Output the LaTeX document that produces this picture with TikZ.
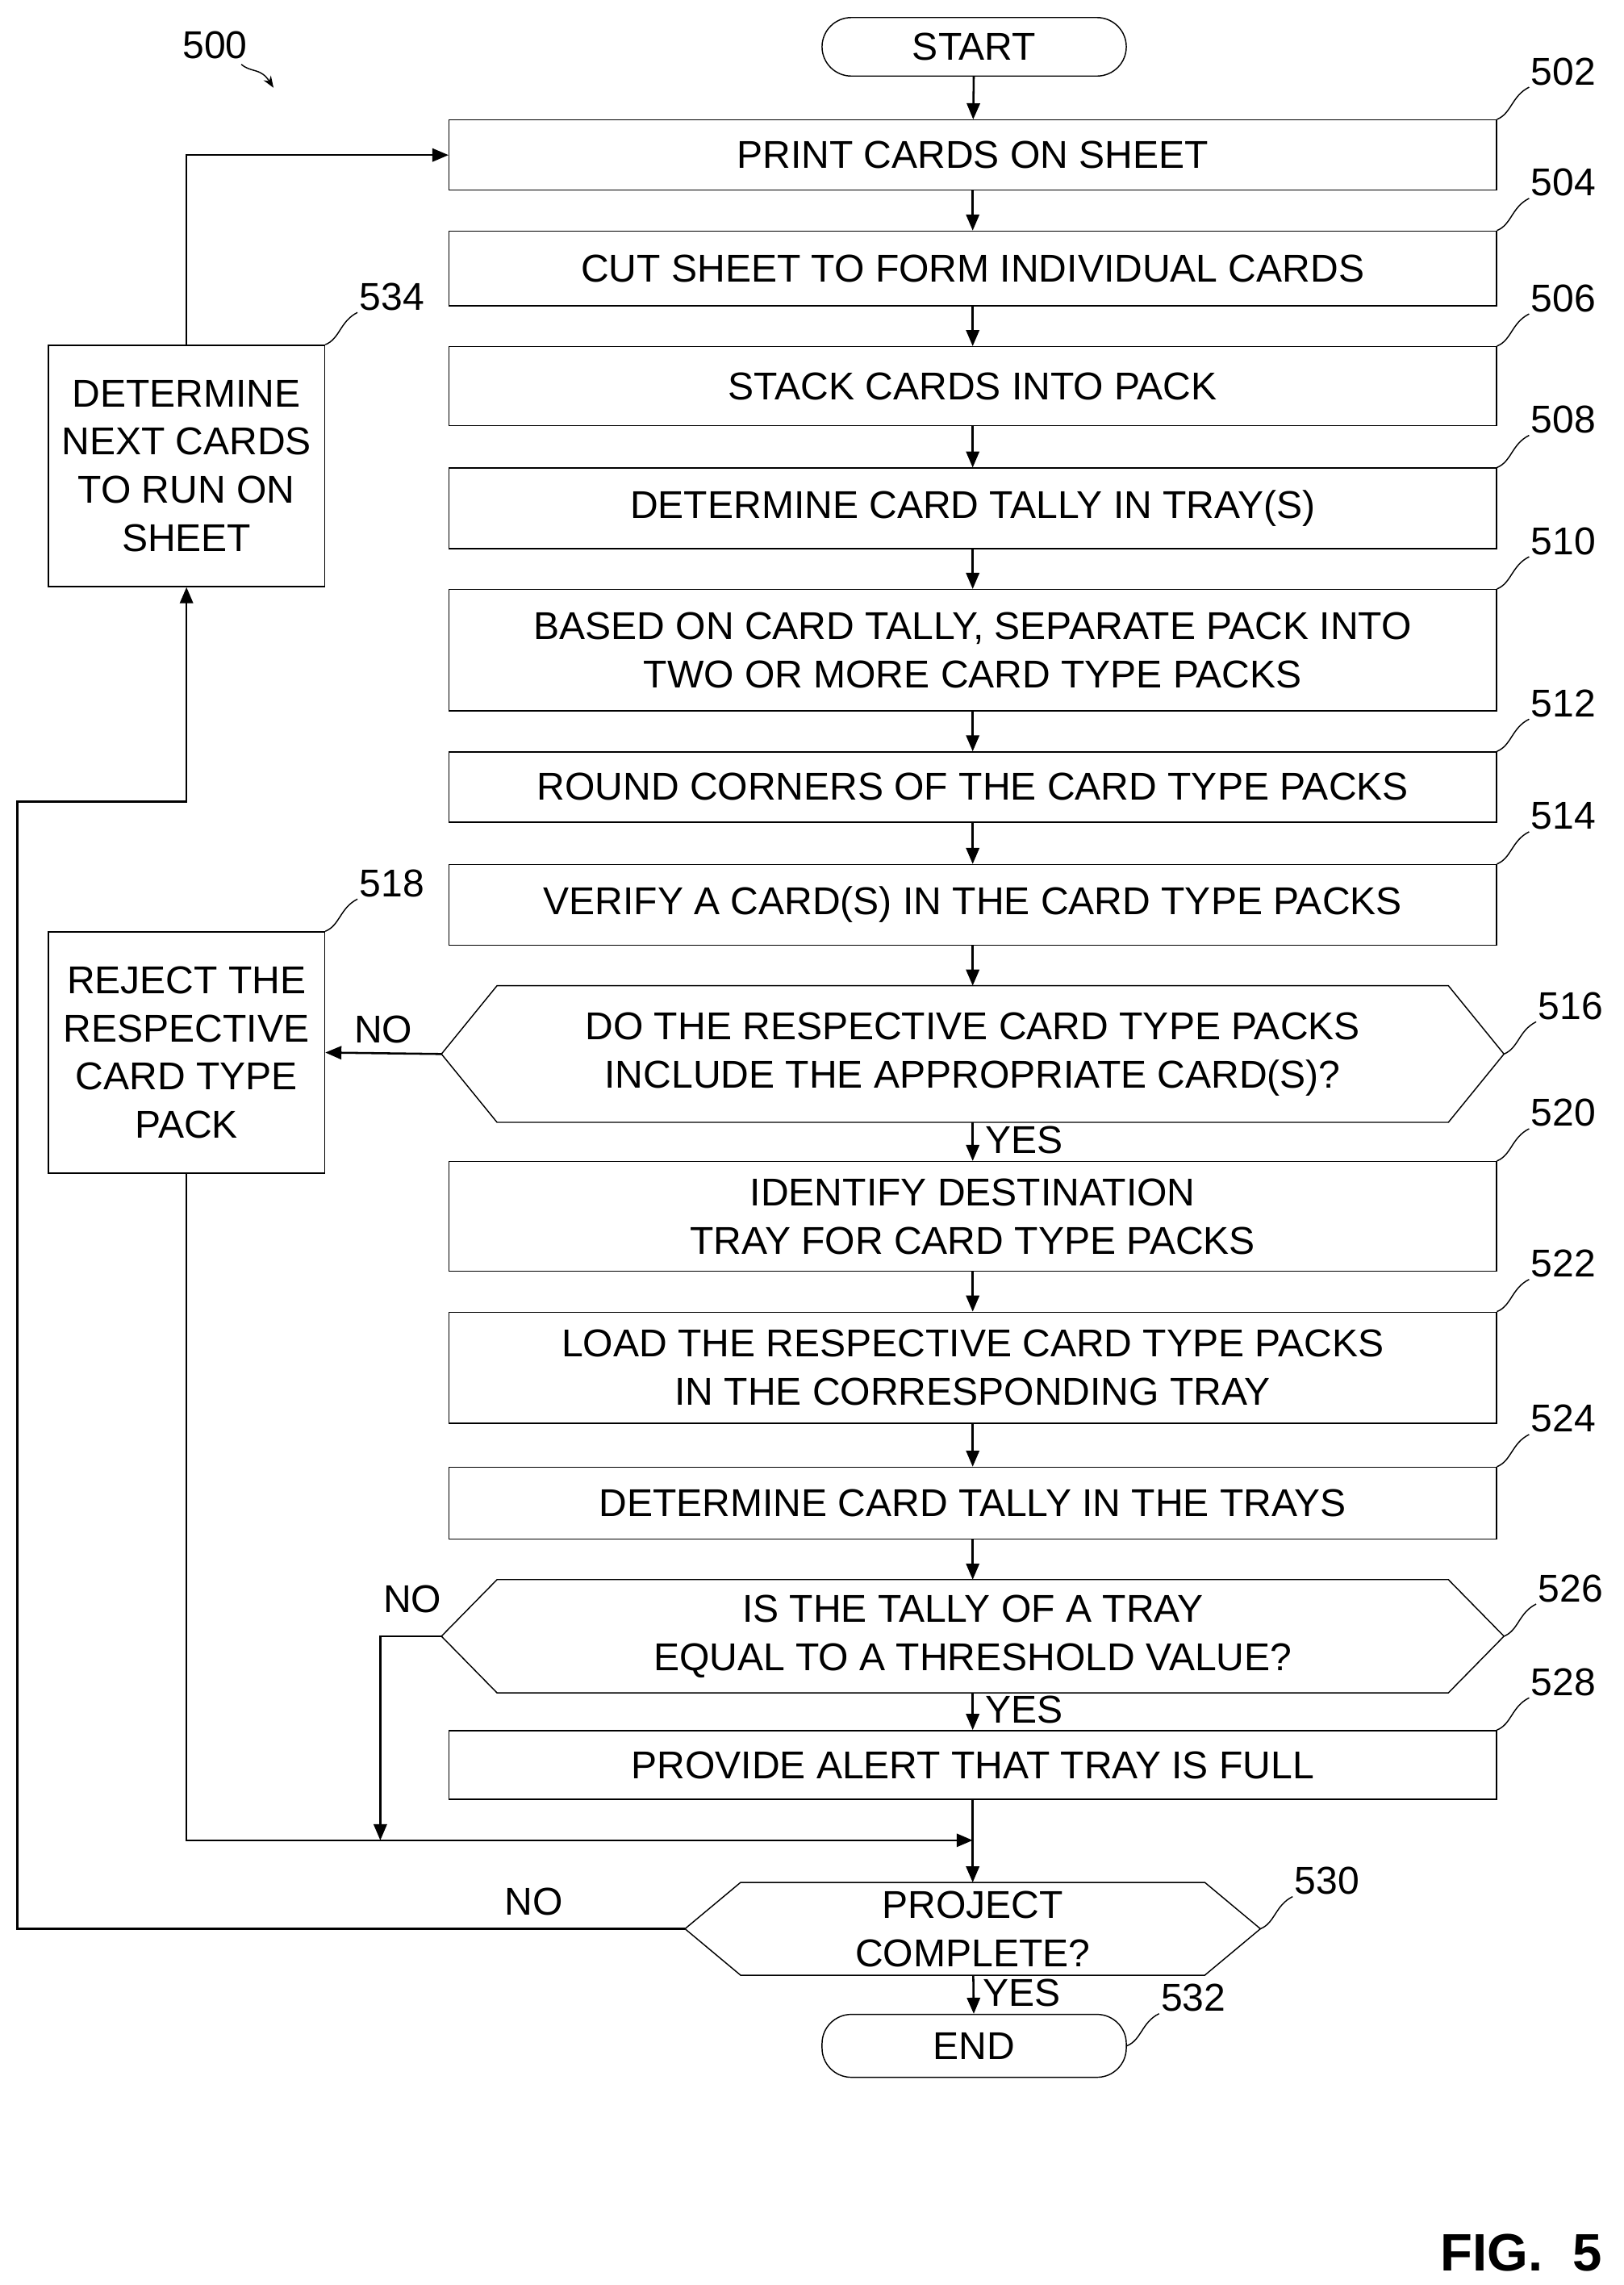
\documentclass[tikz,border=0pt]{standalone}
\usepackage{fontspec}
\setmainfont{Liberation Sans}
\usetikzlibrary{calc,arrows.meta}
\begin{document}
\begin{tikzpicture}[x=1pt,y=-1pt,
  every node/.style={font=\fontsize{26.5}{33}\selectfont, align=center, inner sep=0pt},
  box/.style={draw, line width=0.8pt, minimum width=716pt},
  side/.style={draw, line width=0.8pt, minimum width=189pt, minimum height=165pt},
  term/.style={draw, line width=0.8pt, rounded corners=20pt, minimum width=208pt},
  ln/.style={line width=1.4pt},
  ar/.style={ln,-{Triangle[length=11pt,width=9pt]}},
  lead/.style={line width=0.8pt}]
\useasboundingbox (0,0) rectangle (1110,1562);
\newcommand\mkbox[4]{\node[box, minimum height=#3pt] (#1) at (665,#2) {#4};}
\newcommand\hexa[5]{% name, cy, width, height, text
  \node[minimum width=#3pt, minimum height=#4pt] (#1) at (665,#2) {#5};
  \draw[line width=0.8pt] (#1.west) -- ($(#1.north west)+(38,0)$) -- ($(#1.north east)+(-38,0)$) -- (#1.east) -- ($(#1.south east)+(-38,0)$) -- ($(#1.south west)+(38,0)$) -- cycle;}
\newcommand\num[2]{\draw[lead] (#1) .. controls +(10,-4) and +(-12,6) .. ++(22,-22) node[anchor=south west, inner sep=1pt]{#2};}

\node[term, minimum height=40pt] (st) at (666,32) {START};
\mkbox{b502}{106}{48}{PRINT CARDS ON SHEET}
\mkbox{b504}{183.5}{51}{CUT SHEET TO FORM INDIVIDUAL CARDS}
\mkbox{b506}{264}{54}{STACK CARDS INTO PACK}
\mkbox{b508}{347.5}{55}{DETERMINE CARD TALLY IN TRAY(S)}
\mkbox{b510}{444.5}{83}{BASED ON CARD TALLY, SEPARATE PACK INTO\\TWO OR MORE CARD TYPE PACKS}
\mkbox{b512}{538}{48}{ROUND CORNERS OF THE CARD TYPE PACKS}
\mkbox{b514}{618.5}{55}{VERIFY A CARD(S) IN THE CARD TYPE PACKS}
\hexa{h516}{720.5}{726}{93}{DO THE RESPECTIVE CARD TYPE PACKS\\INCLUDE THE APPROPRIATE CARD(S)?}
\mkbox{b520}{831.5}{75}{IDENTIFY DESTINATION\\TRAY FOR CARD TYPE PACKS}
\mkbox{b522}{935}{76}{LOAD THE RESPECTIVE CARD TYPE PACKS\\IN THE CORRESPONDING TRAY}
\mkbox{b524}{1027.5}{49}{DETERMINE CARD TALLY IN THE TRAYS}
\hexa{h526}{1118.5}{726}{77}{IS THE TALLY OF A TRAY\\EQUAL TO A THRESHOLD VALUE?}
\mkbox{b528}{1206.5}{47}{PROVIDE ALERT THAT TRAY IS FULL}
\hexa{h530}{1318.5}{393}{63}{PROJECT\\COMPLETE?}
\node[term, minimum height=43pt] (en) at (666,1398.5) {END};
\node[side] (b534) at (127.5,318.5) {DETERMINE\\NEXT CARDS\\TO RUN ON\\SHEET};
\node[side] (b518) at (127.5,719.5) {REJECT THE\\RESPECTIVE\\CARD TYPE\\PACK};

\draw[ar] (st) -- (b502);
\draw[ar] (b502) -- (b504);
\draw[ar] (b504) -- (b506);
\draw[ar] (b506) -- (b508);
\draw[ar] (b508) -- (b510);
\draw[ar] (b510) -- (b512);
\draw[ar] (b512) -- (b514);
\draw[ar] (b514) -- (h516);
\draw[ar] (h516) -- node[right=8pt, pos=0.45]{YES} (b520);
\draw[ar] (b520) -- (b522);
\draw[ar] (b522) -- (b524);
\draw[ar] (b524) -- (h526);
\draw[ar] (h526) -- node[right=8pt, pos=0.45]{YES} (b528);
\draw[ar] (b528) -- (h530);
\draw[ar] (h530) -- node[right=6pt, pos=0.45]{YES} (en);
\draw[ar] (h516.west) -- node[above=6pt]{NO} (b518.east);
\coordinate (m) at (665,1258);
\draw[ar] (b518.south) |- (m);
\draw[ar] (h526.west) -- (260,1118.5) -- (260,1258);
\node (no526) at (282,1093) {NO};
\node (no530) at (365,1300) {NO};
\draw[ar] (h530.west) -- (12,1318.5) -- (12,548) -- (127.5,548) -- (b534.south);
\draw[ar] (b534.north) |- (b502.west);

\num{b502.north east}{502}
\num{b504.north east}{504}
\num{b506.north east}{506}
\num{b508.north east}{508}
\num{b510.north east}{510}
\num{b512.north east}{512}
\num{b514.north east}{514}
\num{h516.east}{516}
\num{b520.north east}{520}
\num{b522.north east}{522}
\num{b524.north east}{524}
\num{h526.east}{526}
\num{b528.north east}{528}
\num{h530.east}{530}
\num{en.east}{532}
\num{b534.north east}{534}
\num{b518.north east}{518}
\node (l500) at (147,31) {500};
\draw[lead,-{Stealth[length=8pt]}] (165,44) .. controls (172,50) and (178,46) .. (187,60);
\node[font=\fontsize{36}{40}\selectfont\bfseries] (fig) at (1040,1540) {FIG.~~5};
\end{tikzpicture}
\end{document}
